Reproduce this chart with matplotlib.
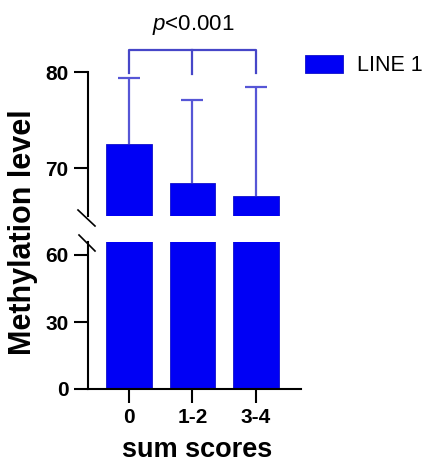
import matplotlib
matplotlib.use("Agg")
import matplotlib.pyplot as plt
from matplotlib.lines import Line2D

plt.rcParams['font.family'] = ['Liberation Sans', 'DejaVu Sans']
plt.rcParams['mathtext.fontset'] = 'custom'
plt.rcParams['mathtext.it'] = 'Liberation Sans:italic'
plt.rcParams['mathtext.rm'] = 'Liberation Sans'

# data
groups = ['0', '1-2', '3-4']
means = [72.5, 68.4, 67.1]
err_up = [6.9, 8.7, 11.3]
series_name = 'LINE 1'
p_text = r'$\mathit{p}$<0.001'

bar_color = '#0000f5'
err_color = '#5656d6'
x = list(range(len(groups)))

W, H = 433, 463
fig = plt.figure(figsize=(W / 100, H / 100), dpi=100)

def fx(px):
    return px / W

def fy(py):
    return 1 - py / H

ax_top = fig.add_axes([fx(88), fy(216), fx(301) - fx(88), fy(72) - fy(216)])
ax_bot = fig.add_axes([fx(88), fy(389), fx(301) - fx(88), fy(241.6) - fy(389)])

lw = 1.5
for ax in (ax_top, ax_bot):
    ax.bar(x, means, width=0.72, color=bar_color, edgecolor='#1010c8', linewidth=0.6,
           label=series_name, zorder=2)
    eb = ax.errorbar(x, means, yerr=[[0] * len(x), err_up], fmt='none', ecolor=err_color,
                     elinewidth=1.6, capsize=8, capthick=1.6, zorder=1,
                     clip_on=(ax is ax_bot))
    # only the upper whisker is drawn
    eb[1][0].set_visible(False)
    ax.set_xlim(-0.645, 2.71)
    for s in ('top', 'right'):
        ax.spines[s].set_visible(False)
    ax.spines['left'].set_linewidth(lw)
    ax.spines['bottom'].set_linewidth(lw)
    ax.tick_params(axis='both', width=lw, length=10, pad=4, labelsize=15)

ax_top.set_ylim(65, 80)
ax_top.set_yticks([70, 80])
ax_top.spines['bottom'].set_visible(False)
ax_top.set_xticks([])
ax_top.set_yticklabels(['70', '80'], fontweight='bold', fontsize=15)

ax_bot.set_ylim(0, 66)
ax_bot.set_yticks([0, 30, 60])
ax_bot.set_yticklabels(['0', '30', '60'], fontweight='bold', fontsize=15)
ax_bot.set_xticks(x)
ax_bot.set_xticklabels(groups, fontweight='bold', fontsize=15)

# bars in the top panel start at the break
for p in ax_top.patches:
    p.set_y(65)
    p.set_height(p.get_height() - 65)

# significance bracket
yb = 82.3
ax_top.plot([x[0], x[0], x[-1], x[-1]], [79.9, yb, yb, 79.9], color='#4646c8',
            lw=1.6, clip_on=False)
ax_top.plot([x[1], x[1]], [yb, 79.8], color='#4646c8', lw=1.6, clip_on=False)
fig.text(fx(193), fy(25), p_text, ha='center', va='center', fontsize=16)

# axis break marks
for (x0, y0, x1, y1) in [(78, 210, 95, 226), (79, 235, 95, 251)]:
    fig.add_artist(Line2D([fx(x0), fx(x1)], [fy(y0), fy(y1)], color='black', lw=1.2))

fig.text(fx(23), fy(232), 'Methylation level', rotation=90, ha='center', va='center',
         fontsize=22, fontweight='bold')
fig.text(fx(197), fy(450), 'sum scores', ha='center', va='center',
         fontsize=19.5, fontweight='bold')

h, l = ax_bot.get_legend_handles_labels()
fig.legend(h[:1], l[:1], loc='upper left', bbox_to_anchor=(fx(305), fy(55)),
           frameon=False, fontsize=15.5, handlelength=1.75, handleheight=0.9,
           handletextpad=0.65, borderpad=0, borderaxespad=0)

fig.savefig('out.png', dpi=100)
